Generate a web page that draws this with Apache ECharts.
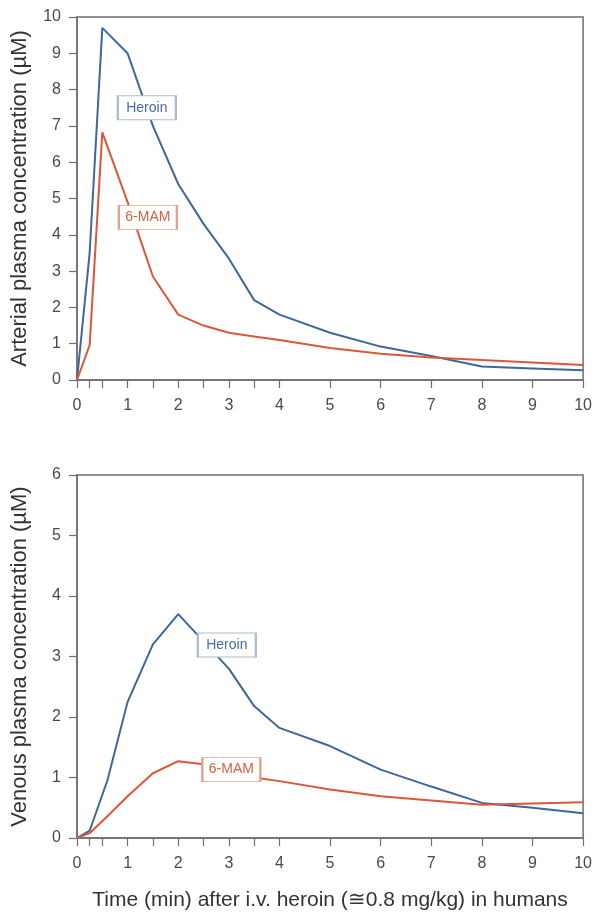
<!DOCTYPE html>
<html>
<head>
<meta charset="utf-8">
<script src="https://cdn.jsdelivr.net/npm/echarts@6/dist/echarts.min.js"></script>
<style>
  html, body { margin: 0; padding: 0; background: #fff; }
  #chart { width: 595px; height: 913px; }
</style>
</head>
<body>
<div id="chart"></div>
<script>
// time points (min) and concentrations (uM)
const artTime = [0, 0.25, 0.5, 1, 1.5, 2, 2.5, 3, 3.5, 4, 5, 6, 7, 8, 9, 10];
const artHeroin = [0, 3.5, 9.7, 9.0, 7.0, 5.4, 4.3, 3.35, 2.2, 1.8, 1.3, 0.92, 0.66, 0.37, 0.32, 0.27];
const artMam = [0, 0.96, 6.82, 4.9, 2.85, 1.8, 1.5, 1.3, 1.2, 1.1, 0.88, 0.72, 0.62, 0.55, 0.48, 0.41];

const venTime = [0, 0.25, 0.6, 1, 1.5, 2, 2.5, 3, 3.5, 4, 5, 6, 7, 8, 9, 10];
const venHeroin = [0, 0.12, 0.95, 2.25, 3.2, 3.7, 3.25, 2.8, 2.18, 1.82, 1.52, 1.13, 0.85, 0.58, 0.5, 0.41];
const venMam = [0, 0.08, 0.36, 0.69, 1.07, 1.27, 1.22, 1.1, 1.0, 0.94, 0.8, 0.69, 0.62, 0.55, 0.57, 0.59];

const xTicks = [0, 0.25, 0.5, 1, 1.5, 2, 2.5, 3, 3.5, 4, 5, 6, 7, 8, 9, 10];
const xLabels = [0, 1, 2, 3, 4, 5, 6, 7, 8, 9, 10];

// label boxes: [x, y] in data coords
const artHeroinTag = [1.38, 7.5];
const artMamTag = [1.4, 4.48];
const venHeroinTag = [2.96, 3.19];
const venMamTag = [3.05, 1.13];

const blue = '#3f6896';
const red = '#d9573b';
const axisCol = '#6f6f6f';
const font = 'Liberation Sans, Arial, sans-serif';

function pairs(t, v) { return t.map((x, i) => [x, v[i]]); }

function xAxisCfg(gi, name) {
  return {
    type: 'value', gridIndex: gi, min: 0, max: 10,
    axisLine: { show: true, onZero: false, lineStyle: { color: axisCol, width: 1.5 } },
    axisTick: { show: true, length: 8, customValues: xTicks, lineStyle: { color: axisCol, width: 1.2 } },
    axisLabel: { customValues: xLabels, margin: 18, fontSize: 16, color: '#4a4a4a', fontFamily: font },
    splitLine: { show: false },
    name: name || '', nameLocation: 'middle', nameGap: 52,
    nameTextStyle: { fontSize: 21, color: '#333', fontFamily: font }
  };
}
function yAxisCfg(gi, max, name) {
  return {
    type: 'value', gridIndex: gi, min: 0, max: max, interval: 1,
    axisLine: { show: true, lineStyle: { color: axisCol, width: 1.5 } },
    axisTick: { show: true, length: 8, lineStyle: { color: axisCol, width: 1.2 } },
    axisLabel: { margin: 16, fontSize: 16, color: '#4a4a4a', fontFamily: font },
    splitLine: { show: false },
    name: name, nameLocation: 'middle', nameGap: 46,
    nameTextStyle: { fontSize: 22, color: '#333', fontFamily: font }
  };
}
function tag(coord, text, col, border) {
  return {
    symbol: 'rect', symbolSize: [58, 24], silent: true,
    itemStyle: { color: '#fff', borderColor: border, borderWidth: 1.5 },
    label: { show: true, position: 'inside', formatter: text, color: col, fontSize: 14, fontFamily: font },
    data: [{ coord: coord }]
  };
}
function lineSeries(gi, t, v, col, tg) {
  return {
    type: 'line', xAxisIndex: gi, yAxisIndex: gi, data: pairs(t, v),
    symbol: 'none', lineStyle: { color: col, width: 2 }, itemStyle: { color: col },
    markPoint: tg, z: 3
  };
}

const chart = echarts.init(document.getElementById('chart'));
chart.setOption({
  animation: false,
  grid: [
    { left: 77, top: 17, right: 9, height: 363, show: true, borderColor: axisCol, borderWidth: 1.5 },
    { left: 77, top: 475, right: 9, height: 363, show: true, borderColor: axisCol, borderWidth: 1.5 }
  ],
  xAxis: [xAxisCfg(0), xAxisCfg(1, 'Time (min) after i.v. heroin (\u22450.8 mg/kg) in humans')],
  yAxis: [yAxisCfg(0, 10, 'Arterial plasma concentration (\u00b5M)'), yAxisCfg(1, 6, 'Venous plasma concentration (\u00b5M)')],
  series: [
    lineSeries(0, artTime, artHeroin, blue, tag(artHeroinTag, 'Heroin', '#4a6aa8', '#a9bed2')),
    lineSeries(0, artTime, artMam, red, tag(artMamTag, '6-MAM', '#d0623f', '#e0a28c')),
    lineSeries(1, venTime, venHeroin, blue, tag(venHeroinTag, 'Heroin', '#4a6aa8', '#a9bed2')),
    lineSeries(1, venTime, venMam, red, tag(venMamTag, '6-MAM', '#d0623f', '#e0a28c'))
  ]
});
window.addEventListener('resize', () => chart.resize());
</script>
</body>
</html>
